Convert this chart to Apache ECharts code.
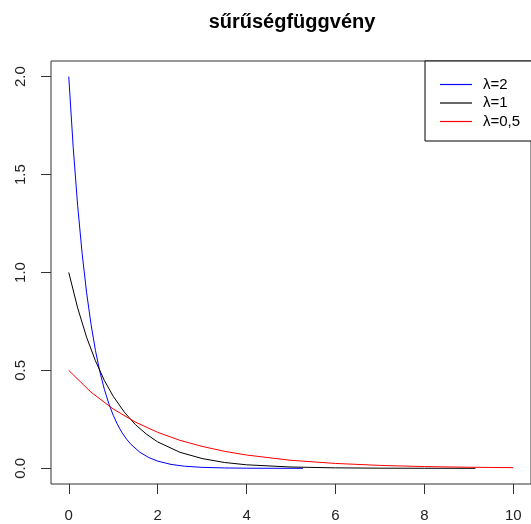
<!DOCTYPE html>
<html>
<head>
<meta charset="utf-8">
<script src="https://cdn.jsdelivr.net/npm/echarts@6/dist/echarts.min.js"></script>
<style>html,body{margin:0;padding:0;background:#fff}#c{width:531px;height:524px}</style>
</head>
<body>
<div id="c"></div>
<script>
const titleText = 'sűrűségfüggvény';
const seriesNames = ['λ=2', 'λ=1', 'λ=0,5'];
const xTicks = [0, 2, 4, 6, 8, 10];
const yTicks = [0, 0.5, 1, 1.5, 2];

const lambda2X = [0, 0.1, 0.2, 0.3, 0.4, 0.5, 0.6, 0.7, 0.8, 0.9, 1.0, 1.1, 1.2, 1.3, 1.4, 1.6, 1.8, 2.0, 2.3, 2.6, 3.0, 3.5, 4.0, 4.6, 5.27];
const lambda2Y = [2.0, 1.637, 1.341, 1.098, 0.899, 0.736, 0.602, 0.493, 0.404, 0.331, 0.271, 0.222, 0.181, 0.149, 0.122, 0.082, 0.055, 0.037, 0.020, 0.011, 0.005, 0.002, 0.0007, 0.0002, 0.00005];

const lambda1X = [0, 0.2, 0.4, 0.6, 0.8, 1.0, 1.25, 1.5, 1.75, 2.0, 2.5, 3.0, 3.5, 4.0, 5.0, 6.0, 7.0, 8.0, 9.15];
const lambda1Y = [1.0, 0.819, 0.670, 0.549, 0.449, 0.368, 0.287, 0.223, 0.174, 0.135, 0.082, 0.050, 0.030, 0.018, 0.0067, 0.0025, 0.0009, 0.0003, 0.0001];

const lambda05X = [0, 0.5, 1.0, 1.5, 2.0, 2.5, 3.0, 3.5, 4.0, 5.0, 6.0, 7.0, 8.0, 9.0, 10.0];
const lambda05Y = [0.5, 0.389, 0.303, 0.236, 0.184, 0.143, 0.112, 0.087, 0.068, 0.041, 0.025, 0.015, 0.009, 0.0056, 0.0034];

const colors = ['#0000ff', '#000000', '#ff0000'];

function pairs(xs, ys) { return xs.map((x, i) => [x, ys[i]]); }

const chart = echarts.init(document.getElementById('c'), null, {renderer: 'canvas'});
const font = 'Liberation Sans, Arial, sans-serif';
chart.setOption({
  animation: false,
  backgroundColor: '#fff',
  title: {
    text: titleText,
    left: 292,
    textAlign: 'center',
    top: 12,
    padding: 0,
    textStyle: {fontFamily: font, fontSize: 20, fontWeight: 'bold', color: '#000'}
  },
  grid: {
    left: 51, top: 61, right: -3, bottom: 40,
    show: true, borderColor: '#333', borderWidth: 1, backgroundColor: 'transparent'
  },
  legend: {
    orient: 'vertical',
    left: 425, top: 61,
    padding: [16, 30, 12, 15],
    borderColor: '#000', borderWidth: 1, borderRadius: 0,
    backgroundColor: '#fff',
    icon: 'rect',
    itemWidth: 32, itemHeight: 1.2,
    itemGap: 3.5,
    textStyle: {fontFamily: font, fontSize: 15, lineHeight: 15, color: '#000', padding: [0, 0, 0, 6]},
    data: seriesNames.map((n, i) => ({name: n, itemStyle: {color: colors[i]}}))
  },
  xAxis: {
    type: 'value', min: -0.4, max: 10.4,
    axisLine: {show: false, onZero: false},
    splitLine: {show: false},
    axisTick: {show: true, length: 10, customValues: xTicks, lineStyle: {color: '#333'}},
    axisLabel: {customValues: xTicks, margin: 24, fontFamily: font, fontSize: 15, color: '#222'}
  },
  yAxis: {
    type: 'value', min: -0.08, max: 2.08,
    axisLine: {show: false, onZero: false},
    splitLine: {show: false},
    axisTick: {show: true, length: 10, customValues: yTicks, lineStyle: {color: '#333'}},
    axisLabel: {customValues: yTicks, rotate: 90, margin: 23, fontFamily: font, fontSize: 15, color: '#222',
      formatter: v => v.toFixed(1)}
  },
  series: [
    {name: seriesNames[0], type: 'line', data: pairs(lambda2X, lambda2Y), showSymbol: false,
      lineStyle: {color: colors[0], width: 1}, itemStyle: {color: colors[0]}},
    {name: seriesNames[1], type: 'line', data: pairs(lambda1X, lambda1Y), showSymbol: false,
      lineStyle: {color: colors[1], width: 1}, itemStyle: {color: colors[1]}},
    {name: seriesNames[2], type: 'line', data: pairs(lambda05X, lambda05Y), showSymbol: false,
      lineStyle: {color: colors[2], width: 1}, itemStyle: {color: colors[2]}}
  ]
});
</script>
</body>
</html>
